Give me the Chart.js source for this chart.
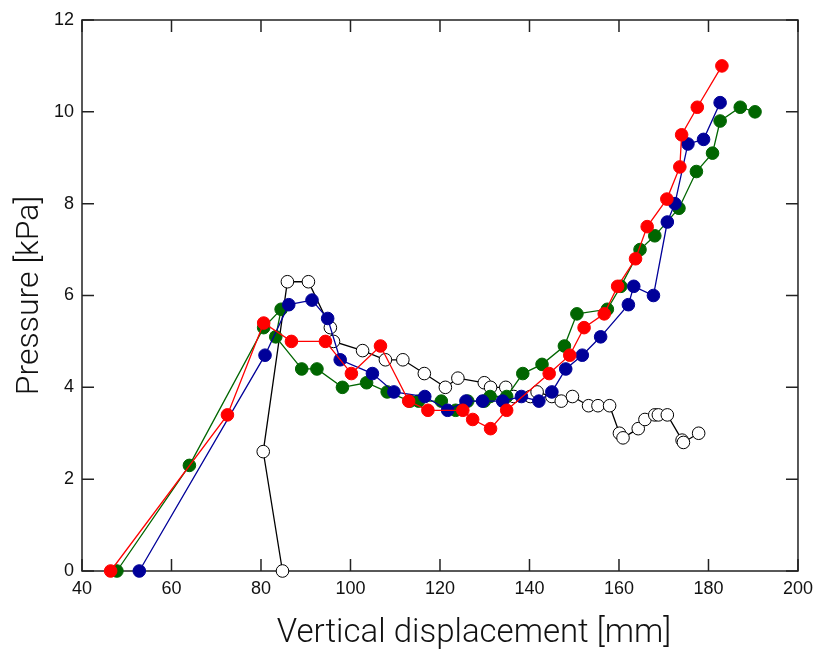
<!DOCTYPE html>
<html>
<head>
<meta charset="utf-8">
<script src="https://cdn.jsdelivr.net/npm/chart.js@4.4.1/dist/chart.umd.min.js"></script>
<style>
  html, body { margin: 0; padding: 0; background: #fff; }
  #wrap { width: 820px; height: 656px; }
</style>
</head>
<body>
<div id="wrap"><canvas id="myPressureChart"></canvas></div>
<script>
// values: [displacement mm, pressure kPa]
const redRun = [
  [46.4, 0], [72.5, 3.4], [80.6, 5.4], [86.8, 5.0], [94.4, 5.0], [100.2, 4.3],
  [106.7, 4.9], [113.0, 3.7], [117.3, 3.5], [125.1, 3.5], [127.3, 3.3], [131.3, 3.1],
  [134.9, 3.5], [144.4, 4.3], [149.0, 4.7], [152.2, 5.3], [156.7, 5.6], [159.7, 6.2],
  [163.7, 6.8], [166.3, 7.5], [170.7, 8.1], [173.6, 8.8], [174.0, 9.5], [177.5, 10.1],
  [183.0, 11.0],
];
const blueRun = [
  [52.8, 0], [80.9, 4.7], [86.2, 5.8], [91.4, 5.9], [94.9, 5.5], [97.7, 4.6],
  [104.9, 4.3], [109.7, 3.9], [116.6, 3.8], [121.7, 3.5], [125.8, 3.7], [129.5, 3.7],
  [134.0, 3.7], [138.2, 3.8], [142.1, 3.7], [145.0, 3.9], [148.1, 4.4], [151.8, 4.7],
  [155.9, 5.1], [162.1, 5.8], [163.3, 6.2], [167.7, 6.0], [170.8, 7.6], [172.5, 8.0],
  [175.4, 9.3], [178.9, 9.4], [182.6, 10.2],
];
const greenRun = [
  [47.8, 0], [64.0, 2.3], [80.6, 5.3], [84.5, 5.7], [83.3, 5.1], [89.1, 4.4],
  [92.5, 4.4], [98.2, 4.0], [103.6, 4.1], [108.2, 3.9], [113.3, 3.7], [115.2, 3.7],
  [120.3, 3.7], [123.5, 3.5], [126.2, 3.7], [129.9, 3.7], [131.2, 3.8], [134.9, 3.8],
  [138.5, 4.3], [142.8, 4.5], [147.8, 4.9], [150.6, 5.6], [157.4, 5.7], [160.4, 6.2],
  [164.7, 7.0], [168.0, 7.3], [173.4, 7.9], [177.3, 8.7], [180.9, 9.1], [182.6, 9.8],
  [187.1, 10.1], [190.4, 10.0],
];
const openRun = [
  [84.8, 0], [80.5, 2.6], [85.9, 6.3], [90.6, 6.3], [95.5, 5.3], [96.2, 5.0],
  [102.7, 4.8], [107.8, 4.6], [111.7, 4.6], [116.5, 4.3], [121.2, 4.0], [124.0, 4.2],
  [129.9, 4.1], [131.3, 4.0], [134.7, 4.0], [136.5, 3.8], [140.2, 3.8], [141.7, 3.9],
  [145.0, 3.8], [147.1, 3.7], [149.6, 3.8], [153.2, 3.6], [155.3, 3.6], [157.9, 3.6],
  [160.1, 3.0], [160.9, 2.9], [164.3, 3.1], [165.8, 3.3], [168.0, 3.4], [168.8, 3.4],
  [170.8, 3.4], [174.1, 2.85], [174.4, 2.8], [177.8, 3.0],
];
const xTicks = [40, 60, 80, 100, 120, 140, 160, 180, 200];
const yTicks = [0, 2, 4, 6, 8, 10, 12];
const xTitle = "Vertical displacement [mm]";

const toPoints = (rows) => rows.map((r) => ({ x: r[0], y: r[1] }));

function series(rows, line, fill, edge) {
  return {
    data: toPoints(rows),
    showLine: true,
    borderColor: line,
    borderWidth: 1.3,
    backgroundColor: fill,
    pointBackgroundColor: fill,
    pointBorderColor: edge,
    pointBorderWidth: 1,
    pointRadius: 6.3,
    pointHoverRadius: 6.3,
    tension: 0,
    clip: false,
  };
}

// box round the plot with ticks pointing inwards on all four sides
const frameTicks = {
  id: "frameTicks",
  beforeDatasetsDraw(chart) {
    const { ctx, chartArea: a, scales } = chart;
    const len = 12;
    ctx.save();
    ctx.strokeStyle = "#222";
    ctx.lineWidth = 1.5;
    ctx.strokeRect(a.left, a.top, a.right - a.left, a.bottom - a.top);
    ctx.beginPath();
    xTicks.forEach((v) => {
      const px = scales.x.getPixelForValue(v);
      ctx.moveTo(px, a.bottom);
      ctx.lineTo(px, a.bottom - len);
      ctx.moveTo(px, a.top);
      ctx.lineTo(px, a.top + len);
    });
    yTicks.forEach((v) => {
      const py = scales.y.getPixelForValue(v);
      ctx.moveTo(a.left, py);
      ctx.lineTo(a.left + len, py);
      ctx.moveTo(a.right, py);
      ctx.lineTo(a.right - len, py);
    });
    ctx.stroke();
    ctx.restore();
  },
  // x title sits a bit right of the plot centre in the original
  afterDraw(chart) {
    const { ctx, chartArea: a } = chart;
    ctx.save();
    ctx.fillStyle = "#111";
    ctx.font = "300 33px Roboto, 'Liberation Sans', sans-serif";
    ctx.textAlign = "center";
    ctx.textBaseline = "middle";
    ctx.fillText(xTitle, (a.left + a.right) / 2 + 34, chart.height - 22);
    ctx.restore();
  },
};

const pressure = document.getElementById("myPressureChart");

new Chart(pressure, {
  type: "scatter",
  data: {
    datasets: [
      series(redRun, "#ff0000", "#ff0000", "#ff0000"),
      series(blueRun, "#000099", "#000099", "#000099"),
      series(greenRun, "#006600", "#006600", "#006600"),
      series(openRun, "#000000", "#ffffff", "#000000"),
    ],
  },
  options: {
    responsive: true,
    maintainAspectRatio: false,
    animation: false,
    layout: {
      padding: { top: 20, right: 19, left: 0, bottom: 0 },
    },
    scales: {
      x: {
        type: "linear",
        min: 40,
        max: 200,
        afterBuildTicks: (scale) => {
          scale.ticks = xTicks.map((v) => ({ value: v }));
        },
        afterFit: (scale) => {
          scale.height = 85;
        },
        grid: { display: false, drawTicks: false },
        border: { display: false },
        ticks: {
          color: "#111",
          padding: 7,
          maxRotation: 0,
          font: { family: "'Liberation Sans', Arial, sans-serif", size: 18 },
        },
        title: { display: false },
      },
      y: {
        type: "linear",
        min: 0,
        max: 12,
        afterBuildTicks: (scale) => {
          scale.ticks = yTicks.map((v) => ({ value: v }));
        },
        afterFit: (scale) => {
          scale.width = 82;
        },
        grid: { display: false, drawTicks: false },
        border: { display: false },
        ticks: {
          color: "#111",
          padding: 8,
          font: { family: "'Liberation Sans', Arial, sans-serif", size: 18 },
        },
        title: {
          display: true,
          text: "Pressure [kPa]",
          color: "#111",
          padding: { top: 11, bottom: 0 },
          font: { family: "Roboto, 'Liberation Sans', sans-serif", size: 32, weight: "300" },
        },
      },
    },
    plugins: {
      legend: { display: false },
      tooltip: { enabled: false },
    },
  },
  plugins: [frameTicks],
});
</script>
</body>
</html>
